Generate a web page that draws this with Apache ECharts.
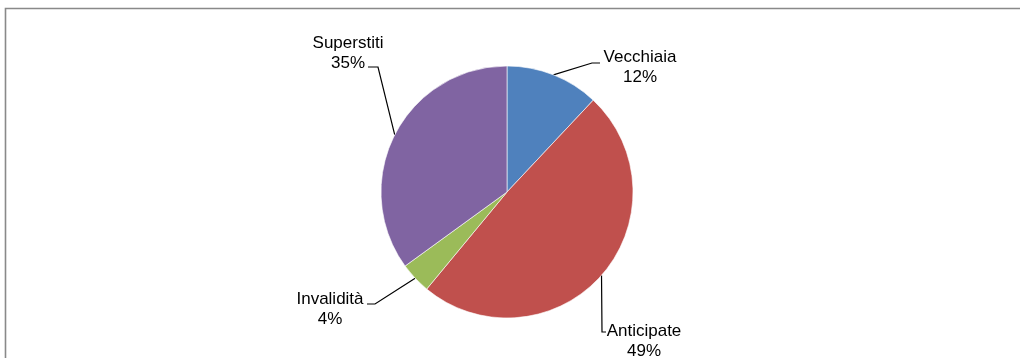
<!DOCTYPE html>
<html>
<head>
<meta charset="utf-8">
<script src="https://cdn.jsdelivr.net/npm/echarts@6/dist/echarts.min.js"></script>
<style>
  html, body { margin: 0; padding: 0; background: #ffffff; }
  #chart { width: 1020px; height: 358px; }
</style>
</head>
<body>
<div id="chart"></div>
<script>
// Pension types and their share of the total (%)
const categories = ['Vecchiaia', 'Anticipate', 'Invalidità', 'Superstiti'];
const shares = [12, 49, 4, 35];
const sliceColors = ['#4F81BD', '#C0504D', '#9BBB59', '#8064A2'];

const chart = echarts.init(document.getElementById('chart'), null, { renderer: 'canvas' });

// Where each label block sits, and the elbow / end of its leader line
const labelPlacement = {
  'Vecchiaia':  { x: 640, y: 67,  elbow: [592, 63],  end: [600, 63] },
  'Anticipate': { x: 644, y: 341, elbow: [602, 332], end: [606, 332] },
  'Invalidità': { x: 330, y: 309, elbow: [375, 304], end: [367, 304] },
  'Superstiti': { x: 348, y: 53,  elbow: [378, 67],  end: [368, 67] }
};

const option = {
  animation: false,
  backgroundColor: '#ffffff',
  graphic: [{
    type: 'rect',
    silent: true,
    shape: { x: 5.5, y: 8.5, width: 1100, height: 500 },
    style: { fill: 'none', stroke: '#898989', lineWidth: 1.6 }
  }],
  series: [{
    type: 'pie',
    center: [507, 192],
    radius: 126,
    startAngle: 90,
    clockwise: true,
    color: sliceColors,
    itemStyle: { borderColor: '#ffffff', borderWidth: 0.6 },
    label: {
      show: true,
      position: 'outside',
      formatter: p => p.name + '\n' + p.value + '%',
      fontFamily: 'Liberation Sans, Arial, sans-serif',
      fontSize: 17,
      lineHeight: 20,
      color: '#000000',
      align: 'center'
    },
    labelLine: {
      show: true,
      length: 20,
      length2: 10,
      lineStyle: { color: '#000000', width: 1.2 }
    },
    labelLayout: function (params) {
      const spot = labelPlacement[categories[params.dataIndex]];
      const anchor = params.labelLinePoints ? params.labelLinePoints[0] : null;
      const res = {
        x: spot.x,
        y: spot.y,
        align: 'center',
        verticalAlign: 'middle'
      };
      if (anchor) {
        res.labelLinePoints = [anchor, spot.elbow, spot.end];
      }
      return res;
    },
    data: categories.map((name, i) => ({ name: name, value: shares[i] }))
  }]
};

chart.setOption(option);
</script>
</body>
</html>
